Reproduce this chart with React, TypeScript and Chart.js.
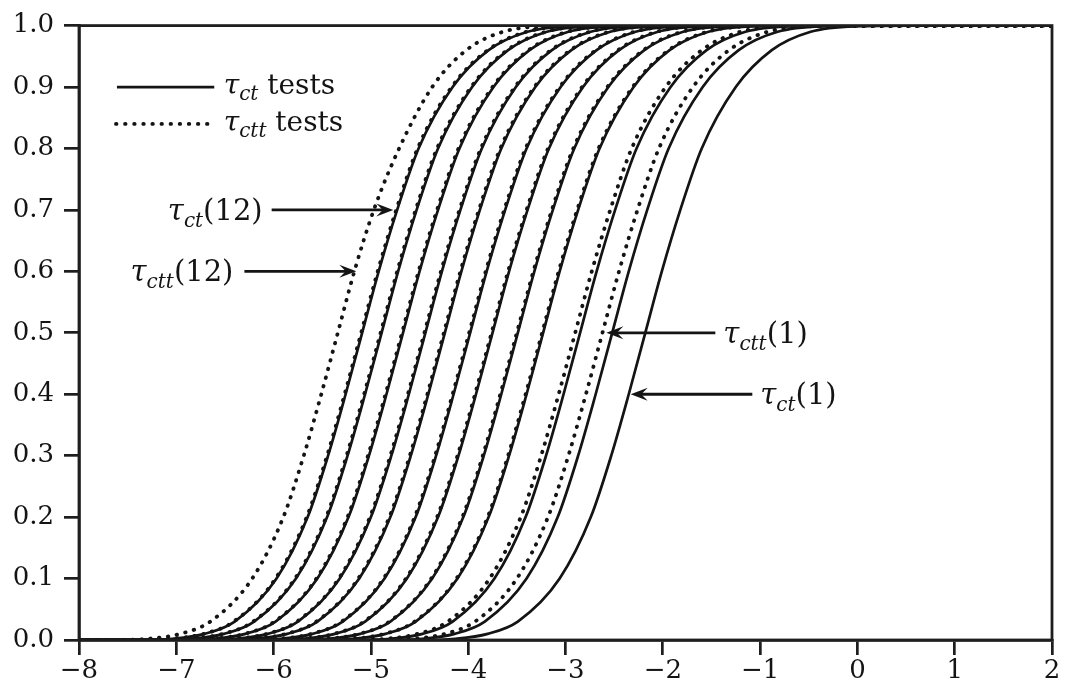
import React, { useEffect, useRef } from "react";
import Chart from "chart.js/auto";

// Cumulative probability levels (y values) shared by every curve
const P_LEVELS = [0, 0, 0.002, 0.01, 0.03, 0.1, 0.2, 0.3, 0.4, 0.5, 0.6, 0.7, 0.8, 0.9, 0.96, 0.99, 0.999, 1, 1];

// τct(k) tests, k = 1..12 : x values read at the probability levels above
const TCT_X = [
  [-8, -4.48, -4.13, -3.80, -3.49, -3.06, -2.74, -2.53, -2.35, -2.18, -2.01, -1.82, -1.60, -1.25, -0.88, -0.48, 0.02, 0.52, 2],
  [-8, -4.82, -4.47, -4.14, -3.83, -3.40, -3.08, -2.87, -2.69, -2.52, -2.35, -2.16, -1.94, -1.59, -1.22, -0.82, -0.32, 0.18, 2],
  [-8, -5.15, -4.80, -4.47, -4.16, -3.73, -3.41, -3.20, -3.02, -2.85, -2.68, -2.49, -2.27, -1.92, -1.55, -1.15, -0.65, -0.15, 2],
  [-8, -5.53, -5.18, -4.85, -4.54, -4.11, -3.79, -3.58, -3.40, -3.23, -3.06, -2.87, -2.65, -2.30, -1.93, -1.53, -1.03, -0.53, 2],
  [-8, -5.79, -5.44, -5.11, -4.80, -4.37, -4.05, -3.84, -3.66, -3.49, -3.32, -3.13, -2.91, -2.56, -2.19, -1.79, -1.29, -0.79, 2],
  [-8, -6.05, -5.70, -5.37, -5.06, -4.63, -4.31, -4.10, -3.92, -3.75, -3.58, -3.39, -3.17, -2.82, -2.45, -2.05, -1.55, -1.05, 2],
  [-8, -6.28, -5.93, -5.60, -5.29, -4.86, -4.54, -4.33, -4.15, -3.98, -3.81, -3.62, -3.40, -3.05, -2.68, -2.28, -1.78, -1.28, 2],
  [-8, -6.54, -6.19, -5.86, -5.55, -5.12, -4.80, -4.59, -4.41, -4.24, -4.07, -3.88, -3.66, -3.31, -2.94, -2.54, -2.04, -1.54, 2],
  [-8, -6.74, -6.39, -6.06, -5.75, -5.32, -5.00, -4.79, -4.61, -4.44, -4.27, -4.08, -3.86, -3.51, -3.14, -2.74, -2.24, -1.74, 2],
  [-8, -6.97, -6.62, -6.29, -5.98, -5.55, -5.23, -5.02, -4.84, -4.67, -4.50, -4.31, -4.09, -3.74, -3.37, -2.97, -2.47, -1.97, 2],
  [-8, -7.19, -6.84, -6.51, -6.20, -5.77, -5.45, -5.24, -5.06, -4.89, -4.72, -4.53, -4.31, -3.96, -3.59, -3.19, -2.69, -2.19, 2],
  [-8, -7.39, -7.04, -6.71, -6.40, -5.97, -5.65, -5.44, -5.26, -5.09, -4.92, -4.73, -4.51, -4.16, -3.79, -3.39, -2.89, -2.39, 2],
];

// τctt(k) tests, k = 1..12
const TCTT_X = [
  [-8, -4.92, -4.57, -4.24, -3.93, -3.50, -3.18, -2.97, -2.79, -2.62, -2.45, -2.26, -2.04, -1.69, -1.32, -0.92, -0.42, 0.08, 2],
  [-8, -5.20, -4.85, -4.52, -4.21, -3.78, -3.46, -3.25, -3.07, -2.90, -2.73, -2.54, -2.32, -1.97, -1.60, -1.20, -0.70, -0.20, 2],
  [-8, -5.54, -5.19, -4.86, -4.55, -4.12, -3.80, -3.59, -3.41, -3.24, -3.07, -2.88, -2.66, -2.31, -1.94, -1.54, -1.04, -0.54, 2],
  [-8, -5.80, -5.45, -5.12, -4.81, -4.38, -4.06, -3.85, -3.67, -3.50, -3.33, -3.14, -2.92, -2.57, -2.20, -1.80, -1.30, -0.80, 2],
  [-8, -6.06, -5.71, -5.38, -5.07, -4.64, -4.32, -4.11, -3.93, -3.76, -3.59, -3.40, -3.18, -2.83, -2.46, -2.06, -1.56, -1.06, 2],
  [-8, -6.29, -5.94, -5.61, -5.30, -4.87, -4.55, -4.34, -4.16, -3.99, -3.82, -3.63, -3.41, -3.06, -2.69, -2.29, -1.79, -1.29, 2],
  [-8, -6.55, -6.20, -5.87, -5.56, -5.13, -4.81, -4.60, -4.42, -4.25, -4.08, -3.89, -3.67, -3.32, -2.95, -2.55, -2.05, -1.55, 2],
  [-8, -6.75, -6.40, -6.07, -5.76, -5.33, -5.01, -4.80, -4.62, -4.45, -4.28, -4.09, -3.87, -3.52, -3.15, -2.75, -2.25, -1.75, 2],
  [-8, -6.98, -6.63, -6.30, -5.99, -5.56, -5.24, -5.03, -4.85, -4.68, -4.51, -4.32, -4.10, -3.75, -3.38, -2.98, -2.48, -1.98, 2],
  [-8, -7.20, -6.85, -6.52, -6.21, -5.78, -5.46, -5.25, -5.07, -4.90, -4.73, -4.54, -4.32, -3.97, -3.60, -3.20, -2.70, -2.20, 2],
  [-8, -7.40, -7.05, -6.72, -6.41, -5.98, -5.66, -5.45, -5.27, -5.10, -4.93, -4.74, -4.52, -4.17, -3.80, -3.40, -2.90, -2.40, 2],
  [-8, -7.64, -7.29, -6.96, -6.65, -6.22, -5.90, -5.69, -5.51, -5.34, -5.17, -4.97, -4.71, -4.37, -4.02, -3.64, -3.14, -2.64, 2],
];

const X_MIN = -8;
const X_MAX = 2;
const Y_MIN = 0;
const Y_MAX = 1;

const FAMILY = '"DejaVu Serif", "Liberation Serif", serif';
const INK = "#141414";

type Part = { t: string; kind: "it" | "sub" | "rm" };

function drawRich(ctx: CanvasRenderingContext2D, parts: Part[], x: number, yMid: number, align: "left" | "right", size = 29) {
  const sub = Math.round(size * 0.7);
  const fontFor = (k: string) =>
    k === "it" ? `italic ${size}px ${FAMILY}` : k === "sub" ? `italic ${sub}px ${FAMILY}` : `${size}px ${FAMILY}`;
  let total = 0;
  const widths = parts.map((p) => {
    ctx.font = fontFor(p.kind);
    const w = ctx.measureText(p.t).width;
    total += w;
    return w;
  });
  let cx = align === "right" ? x - total : x;
  const base = yMid + Math.round(size * 0.34);
  ctx.fillStyle = INK;
  ctx.textBaseline = "alphabetic";
  ctx.textAlign = "left";
  parts.forEach((p, i) => {
    ctx.font = fontFor(p.kind);
    ctx.fillText(p.t, cx, base + (p.kind === "sub" ? Math.round(size * 0.23) : 0));
    cx += widths[i];
  });
}

function arrow(ctx: CanvasRenderingContext2D, x0: number, y0: number, x1: number, y1: number) {
  const dir = Math.sign(x1 - x0);
  const len = 17;
  const hw = 6.5;
  ctx.strokeStyle = INK;
  ctx.fillStyle = INK;
  ctx.lineWidth = 2.8;
  ctx.beginPath();
  ctx.moveTo(x0, y0);
  ctx.lineTo(x1 - dir * len * 0.6, y1);
  ctx.stroke();
  ctx.beginPath();
  ctx.moveTo(x1, y1);
  ctx.lineTo(x1 - dir * len, y1 - hw);
  ctx.lineTo(x1 - dir * len * 0.62, y1);
  ctx.lineTo(x1 - dir * len, y1 + hw);
  ctx.closePath();
  ctx.fill();
}

const decorations = {
  id: "decorations",
  afterDraw(chart: any) {
    const { ctx, chartArea, scales } = chart;
    const sx = (v: number) => scales.x.getPixelForValue(v);
    const sy = (v: number) => scales.y.getPixelForValue(v);
    ctx.save();
    // frame
    ctx.strokeStyle = "#1e1e1e";
    ctx.lineWidth = 2.8;
    ctx.strokeRect(chartArea.left, chartArea.top, chartArea.right - chartArea.left, chartArea.bottom - chartArea.top);

    // legend
    ctx.lineCap = "butt";
    ctx.setLineDash([]);
    ctx.strokeStyle = INK;
    ctx.lineWidth = 2.8;
    ctx.beginPath();
    ctx.moveTo(sx(-7.61), sy(0.9));
    ctx.lineTo(sx(-6.61), sy(0.9));
    ctx.stroke();
    ctx.lineCap = "round";
    ctx.lineWidth = 3.8;
    ctx.setLineDash([0.5, 8.6]);
    ctx.beginPath();
    ctx.moveTo(sx(-7.62), sy(0.84));
    ctx.lineTo(sx(-6.6), sy(0.84));
    ctx.stroke();
    ctx.setLineDash([]);
    ctx.lineCap = "butt";
    drawRich(ctx, [{ t: "τ", kind: "it" }, { t: "ct", kind: "sub" }, { t: " tests", kind: "rm" }], sx(-7.5) + 96, sy(0.9) - 3, "left", 28);
    drawRich(ctx, [{ t: "τ", kind: "it" }, { t: "ctt", kind: "sub" }, { t: " tests", kind: "rm" }], sx(-7.5) + 96, sy(0.84) - 3, "left", 28);

    // annotations
    arrow(ctx, sx(-6.02), sy(0.7), sx(-4.77), sy(0.7));
    drawRich(ctx, [{ t: "τ", kind: "it" }, { t: "ct", kind: "sub" }, { t: "(12)", kind: "rm" }], sx(-6.02) - 9, sy(0.7), "right");

    arrow(ctx, sx(-6.3), sy(0.6), sx(-5.15), sy(0.6));
    drawRich(ctx, [{ t: "τ", kind: "it" }, { t: "ctt", kind: "sub" }, { t: "(12)", kind: "rm" }], sx(-6.3) - 11, sy(0.6), "right");

    arrow(ctx, sx(-1.46), sy(0.5), sx(-2.58), sy(0.5));
    drawRich(ctx, [{ t: "τ", kind: "it" }, { t: "ctt", kind: "sub" }, { t: "(1)", kind: "rm" }], sx(-1.46) + 8, sy(0.5), "left");

    arrow(ctx, sx(-1.08), sy(0.4), sx(-2.33), sy(0.4));
    drawRich(ctx, [{ t: "τ", kind: "it" }, { t: "ct", kind: "sub" }, { t: "(1)", kind: "rm" }], sx(-1.08) + 8, sy(0.4), "left");
    ctx.restore();
  },
};

export default function App() {
  const ref = useRef<HTMLCanvasElement | null>(null);
  useEffect(() => {
    document.body.style.margin = "0";
    const canvas = ref.current;
    if (!canvas) return;
    const mk = (xs: number[]) => xs.map((x, i) => ({ x, y: P_LEVELS[i] }));
    const datasets: any[] = [];
    TCT_X.forEach((xs, i) =>
      datasets.push({
        label: `τct(${i + 1})`,
        data: mk(xs),
        borderColor: INK,
        borderWidth: 2.7,
        pointRadius: 0,
        cubicInterpolationMode: "monotone",
        fill: false,
      })
    );
    TCTT_X.forEach((xs, i) =>
      datasets.push({
        label: `τctt(${i + 1})`,
        data: mk(xs),
        borderColor: INK,
        borderWidth: 3.8,
        borderDash: [0.5, 8.4],
        borderCapStyle: "round",
        pointRadius: 0,
        cubicInterpolationMode: "monotone",
        fill: false,
      })
    );
    const gridCommon = {
      drawOnChartArea: false,
      drawTicks: true,
      tickLength: 15,
      lineWidth: 2.7,
      color: "#1e1e1e",
    };
    const chart = new Chart(canvas, {
      type: "line",
      data: { datasets },
      plugins: [decorations],
      options: {
        animation: false,
        responsive: false,
        maintainAspectRatio: false,
        layout: { padding: { top: 21, right: 13, left: 0, bottom: 0 } },
        plugins: { legend: { display: false }, tooltip: { enabled: false } },
        scales: {
          x: {
            type: "linear",
            min: X_MIN,
            max: X_MAX,
            ticks: {
              stepSize: 1,
              autoSkip: false,
              maxRotation: 0,
              color: INK,
              padding: 1,
              font: { family: FAMILY, size: 26 },
              callback: (v: any) => (Number(v) < 0 ? "\u2212" + Math.abs(Number(v)) : String(v)),
            },
            grid: gridCommon,
            border: { display: true, width: 2.7, color: "#1e1e1e" },
            afterFit: (s: any) => {
              s.height = 56;
            },
          },
          y: {
            type: "linear",
            min: Y_MIN,
            max: Y_MAX,
            ticks: {
              stepSize: 0.1,
              autoSkip: false,
              color: INK,
              padding: 10,
              font: { family: FAMILY, size: 26 },
              callback: (v: any) => Number(v).toFixed(1),
            },
            grid: gridCommon,
            border: { display: true, width: 2.7, color: "#1e1e1e" },
            afterFit: (s: any) => {
              s.width = 79;
            },
          },
        },
      } as any,
    });
    return () => chart.destroy();
  }, []);
  return (
    <div style={{ position: "relative", width: 1065, height: 696, background: "#fff" }}>
      <canvas ref={ref} width={1065} height={696} style={{ display: "block" }} />
    </div>
  );
}
